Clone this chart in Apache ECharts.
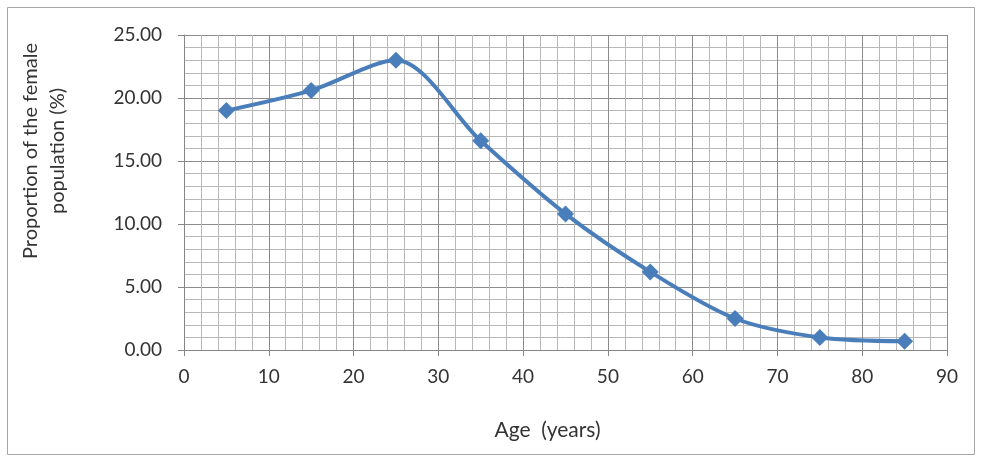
<!DOCTYPE html>
<html>
<head>
<meta charset="utf-8">
<script src="https://cdn.jsdelivr.net/npm/echarts@6/dist/echarts.min.js"></script>
<style>
  html, body { margin: 0; padding: 0; background: #fff; }
  #container { width: 981px; height: 462px; }
</style>
</head>
<body>
<div id="container"></div>
<script>
"use strict";

// age groups (midpoints) and share of female population
const ages = [5, 15, 25, 35, 45, 55, 65, 75, 85];
const shares = [19.0, 20.6, 23.0, 16.6, 10.8, 6.2, 2.5, 1.0, 0.7];

let myChart = echarts.init(document.getElementById('container'));

const textColor = '#333333';
const font = 'Lato, "Open Sans", sans-serif';

let option = {
  animation: false,
  textStyle: { fontFamily: font },
  graphic: [
    {
      type: 'rect',
      shape: { x: 7.5, y: 7.5, width: 967, height: 447 },
      style: { fill: 'none', stroke: '#a6a6a6', lineWidth: 1 },
    },
    {
      // y axis title, two lines
      type: 'text',
      x: 44,
      y: 151,
      rotation: Math.PI / 2,
      style: {
        text: 'Proportion of the female\npopulation (%)',
        align: 'center',
        verticalAlign: 'middle',
        fill: textColor,
        fontSize: 20,
        lineHeight: 27,
        fontFamily: font,
      },
    },
  ],
  grid: {
    left: 184,
    right: 34,
    top: 35,
    bottom: 112,
  },
  xAxis: {
    type: 'value',
    min: 0,
    max: 90,
    interval: 10,
    name: 'Age  (years)',
    nameLocation: 'middle',
    nameGap: 70,
    nameTextStyle: { color: textColor, fontSize: 21, fontFamily: font, padding: [0, 36, 0, 0] },
    axisLine: { onZero: false, lineStyle: { color: '#868686' } },
    axisTick: { show: true, length: 6, lineStyle: { color: '#868686' } },
    axisLabel: { color: textColor, fontSize: 19, margin: 17, fontFamily: font },
    splitLine: { show: true, lineStyle: { color: '#8c8c8c', width: 1 } },
    minorTick: { show: false, splitNumber: 5 },
    minorSplitLine: { show: true, lineStyle: { color: '#b8b8b8', width: 1 } },
  },
  yAxis: {
    type: 'value',
    min: 0,
    max: 25,
    interval: 5,
    axisLine: { show: true, lineStyle: { color: '#868686' } },
    axisTick: { show: true, length: 6, lineStyle: { color: '#868686' } },
    axisLabel: {
      color: textColor,
      fontSize: 19,
      margin: 22,
      padding: [8, 0, 0, 0],
      fontFamily: font,
      formatter: v => v.toFixed(2),
    },
    splitLine: { show: true, lineStyle: { color: '#8c8c8c', width: 1 } },
    minorTick: { show: false, splitNumber: 5 },
    minorSplitLine: { show: true, lineStyle: { color: '#b8b8b8', width: 1 } },
  },
  series: [
    {
      type: 'line',
      data: ages.map((a, i) => [a, shares[i]]),
      smooth: 0.3,
      symbol: 'diamond',
      symbolSize: 17,
      lineStyle: { color: '#4a7ebb', width: 4 },
      itemStyle: { color: '#4a7ebb' },
    },
  ],
};

myChart.setOption(option);
</script>
</body>
</html>
